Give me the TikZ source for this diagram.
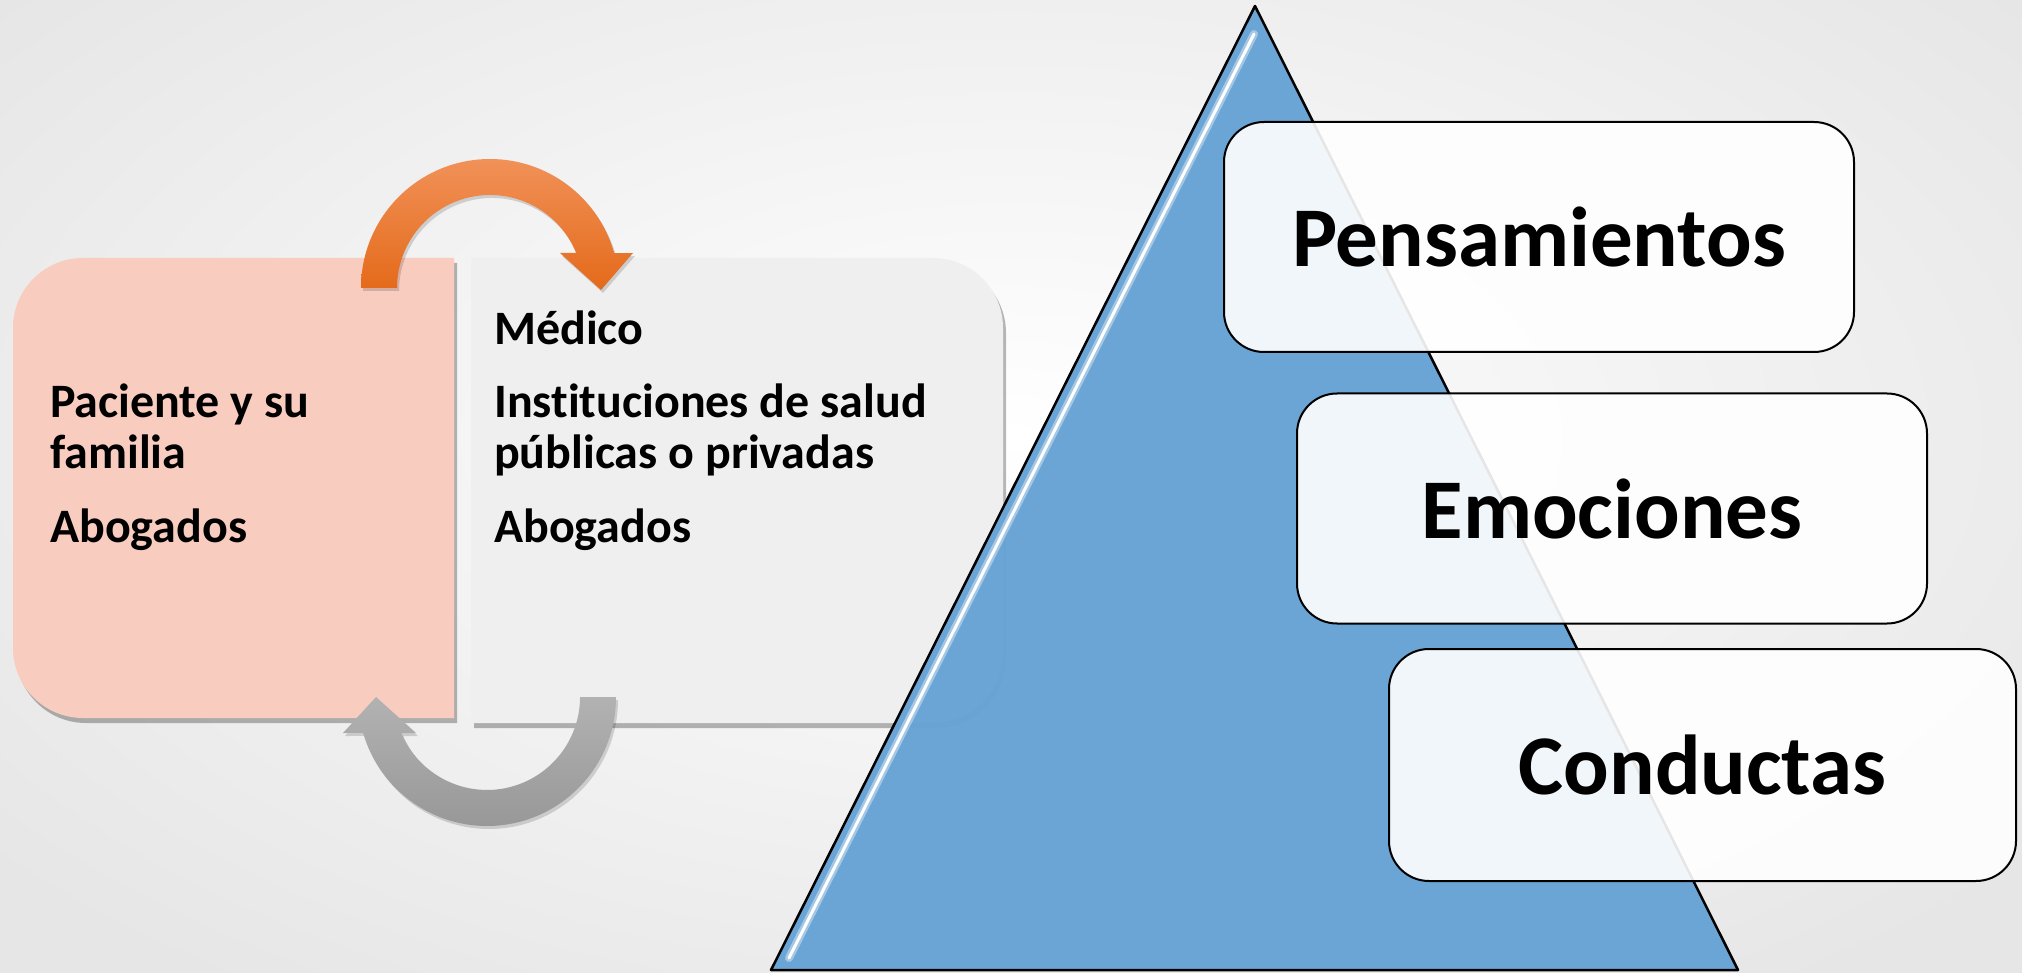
\documentclass[tikz,border=0pt]{standalone}
\usepackage{fontspec}
\setmainfont{Carlito}[Ligatures=NoCommon]
\usetikzlibrary{shadows}
\definecolor{bgedge}{RGB}{230,230,230}
\definecolor{pinkfill}{RGB}{248,204,190}
\definecolor{grayfill}{RGB}{239,239,239}
\definecolor{triblue}{RGB}{103,163,213}
\definecolor{orangetop}{RGB}{241,145,88}
\definecolor{orangebot}{RGB}{228,106,26}
\definecolor{arrowgraytop}{RGB}{178,178,178}
\definecolor{arrowgraybot}{RGB}{152,152,152}
\begin{document}
\begin{tikzpicture}[x=1pt,y=-1pt,
  softshadow/.style={drop shadow={opacity=0.28, shadow xshift=3pt, shadow yshift=-5pt, fill=black}},
  arrowshadow/.style={drop shadow={opacity=0.15, shadow xshift=2pt, shadow yshift=-3pt, fill=black}},
  lefttxt/.style={anchor=base west, inner sep=0pt, font=\fontsize{48}{57}\selectfont\bfseries},
  bigbox/.style={draw=black, line width=2pt, fill=white, fill opacity=0.9, text opacity=1,
    rounded corners=40pt, minimum width=630pt, minimum height=230pt,
    font=\fontsize{85}{100}\selectfont\bfseries, inner sep=0pt},
]
\useasboundingbox (0,0) rectangle (2022,973);
% background
\begin{scope}
\clip (0,0) rectangle (2022,973);
\shade[inner color=white, outer color=bgedge] (-300,-250) rectangle (2322,1123);
\end{scope}

% left boxes
\fill[pinkfill, softshadow] (454,258) -- (83,258) arc[start angle=270, end angle=180, radius=70]
   -- (13,648) arc[start angle=180, end angle=90, radius=70] -- (454,718) -- cycle;
\fill[grayfill, softshadow] (471,258) -- (933,258) arc[start angle=270, end angle=360, radius=70]
   -- (1003,653) arc[start angle=0, end angle=90, radius=70] -- (471,723) -- cycle;

% triangle
\coordinate (apex) at (1255,6);
\coordinate (bl) at (771,970);
\coordinate (br) at (1738,970);
\filldraw[fill=triblue, fill opacity=0.97, draw=black, line width=2.5pt, line join=round]
  (apex) -- (br) -- (bl) -- cycle;
\coordinate (h1) at (1254,34);
\coordinate (h2) at (789,958);
\draw[white!55!triblue, line width=8pt, opacity=0.7, line cap=round] (h1) -- (h2);
\draw[white, line width=3pt, line cap=round] (h1) -- (h2);

% left texts
\node[lefttxt] (p1) at (50,418) {Paciente y su};
\node[lefttxt] (p2) at (50,468) {familia};
\node[lefttxt] (p3) at (50,542) {Abogados};
\node[lefttxt] (m1) at (494,345) {Médico};
\node[lefttxt] (m2) at (494,418) {Instituciones de salud};
\node[lefttxt] (m3) at (494,468) {públicas o privadas};
\node[lefttxt] (m4) at (494,542) {Abogados};

% right boxes
\node[bigbox] (bp) at (1539,237) {Pensamientos};
\node[bigbox] (be) at (1612,508.5) {Emociones};
\node[bigbox, minimum width=627pt, minimum height=232pt] (bc) at (1702.5,765) {Conductas};

% orange circular arrow
\shade[top color=orangetop, bottom color=orangebot, arrowshadow]
  (361,288) arc[start angle=180, end angle=344.3, radius=129]
  -- (633,253) -- (601,290) -- (560,253) -- (576.2,253)
  arc[start angle=337.9, end angle=180, radius=93] -- cycle;

% gray circular arrow
\shade[top color=arrowgraytop, bottom color=arrowgraybot, arrowshadow]
  (580,697) -- (616,697) arc[start angle=0, end angle=163.8, radius=129]
  -- (343,733) -- (376,697) -- (416,733) -- (401.3,733)
  arc[start angle=157.2, end angle=0, radius=93] -- cycle;
\end{tikzpicture}
\end{document}
